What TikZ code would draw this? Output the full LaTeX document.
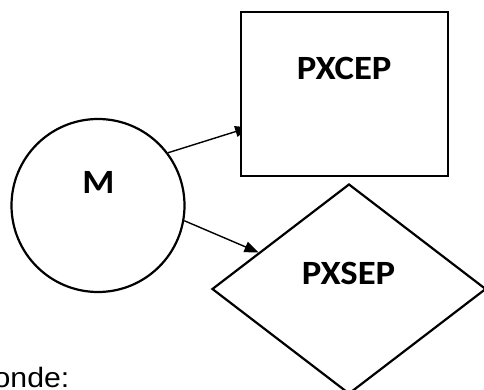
\documentclass[tikz,border=0pt]{standalone}
\usepackage{fontspec}
\newfontfamily\lblfont[FakeStretch=1.08]{Carlito}
\newfontfamily\txtfont[FakeStretch=1.08]{Liberation Sans}
\usetikzlibrary{shapes.geometric,arrows.meta,backgrounds}
\tikzset{
  shapeline/.style={draw=black, line width=2.2pt, fill=white, inner sep=0pt},
  lbl/.style={font=\lblfont\bfseries\fontsize{34}{38}\selectfont, anchor=base, inner sep=0pt},
  conn/.style={draw=black, line width=1.4pt, -{Triangle[length=14pt,width=11pt]}}
}
\begin{document}
\begin{tikzpicture}[x=1pt,y=-1pt]
\useasboundingbox (0,0) rectangle (484,390);
\node[shapeline, circle, minimum size=173pt] (M) at (98,205.5) {};
\node[shapeline, rectangle, minimum width=207.6pt, minimum height=163.7pt] (R) at (344.5,94.2) {};
\node[shapeline, diamond, minimum width=274pt, minimum height=210pt] (D) at (349,289) {};
\node[lbl] (tM) at (98.5,193.3) {M};
\node[lbl] (tR) at (344.2,79.3) {PXCEP};
\node[lbl] (tD) at (348.5,284) {PXSEP};
\node[font=\txtfont\fontsize{28}{32}\selectfont, anchor=base east, inner sep=0pt] (tO) at (69.5,387.7) {onde:};
\begin{pgfonlayer}{background}
\draw[conn, shorten >=-10pt] (M.37) -- (R.199.5);
\end{pgfonlayer}
\draw[conn] (M.-10.5) -- (D.158.7);
\end{tikzpicture}
\end{document}
